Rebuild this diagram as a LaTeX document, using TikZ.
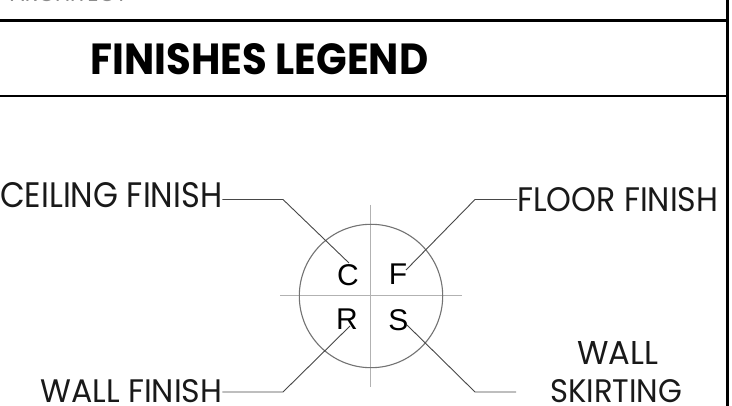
\documentclass[tikz,border=0pt]{standalone}
\usepackage{fontspec}
\setmainfont{Poppins}
\newfontfamily\arialf{Liberation Sans}
\usepackage{graphicx}
\newcommand{\fitbox}[3]{\resizebox{#1}{#2}{#3}}
\begin{document}
\begin{tikzpicture}[x=1pt,y=-1pt,
  lbl/.style={inner sep=0pt, anchor=south west, text=black!90},
  leader/.style={draw=black!72, line width=0.9pt},
  frameline/.style={draw=black, line width=2.2pt},
  ring/.style={circle, draw=black!55, line width=1.1pt, minimum size=143.4pt, inner sep=0pt},
  crossline/.style={draw=black!30, line width=0.9pt},
  letter/.style={inner sep=0pt, font=\arialf\fontsize{30}{30}\selectfont}]
\useasboundingbox (0,0) rectangle (732,406);
\fill[white] (0,0) rectangle (732,406);
% clipped header fragment
\node[lbl, text=black!45] (arch) at (10,1.5) {\fitbox{117pt}{16pt}{ARCHITECT}};
% frame
\draw[frameline] (0,20.5) -- (727,20.5);
\draw[frameline] (0,96) -- (727,96);
\draw[draw=black, line width=3pt] (727.5,-2) -- (727.5,408);
% title
\node[lbl, text=black] (title) at (90.5,75) {\fitbox{337.5pt}{31pt}{\bfseries FINISHES LEGEND}};
% labels
\node[lbl] (ceil) at (0,208) {\fitbox{222pt}{25pt}{CEILING FINISH}};
\node[lbl] (floor) at (517,212) {\fitbox{201pt}{24pt}{FLOOR FINISH}};
\node[lbl] (wallf) at (40,403) {\fitbox{182pt}{23pt}{WALL FINISH}};
\node[lbl] (wall) at (577,365) {\fitbox{81pt}{23pt}{WALL}};
\node[lbl] (skirt) at (550,403) {\fitbox{132pt}{23pt}{SKIRTING}};
% symbol
\draw[crossline] (370.7,205) -- (370.7,387);
\draw[crossline] (280,295.7) -- (462,295.7);
\node[ring] (sym) at (371,296) {};
\node[letter] (C) at (348,275) {C};
\node[letter] (F) at (398,274.5) {F};
\node[letter] (R) at (347,319.5) {R};
\node[letter] (S) at (398.5,320) {S};
% leader points
\coordinate (cbend) at (283,199.5);
\coordinate (cend) at (349,263);
\coordinate (fbend) at (475,199.5);
\coordinate (fend) at (406,270);
\coordinate (wbend) at (283,392);
\coordinate (wend) at (350,326);
\coordinate (send) at (407,325);
\coordinate (sbend) at (475,392);
\coordinate (sfree) at (516,392);
\draw[leader] (ceil.east |- cbend) -- (cbend) -- (cend);
\draw[leader] (floor.west |- fbend) -- (fbend) -- (fend);
\draw[leader] (wallf.east |- wbend) -- (wbend) -- (wend);
\draw[leader] (send) -- (sbend) -- (sfree);
\end{tikzpicture}
\end{document}
